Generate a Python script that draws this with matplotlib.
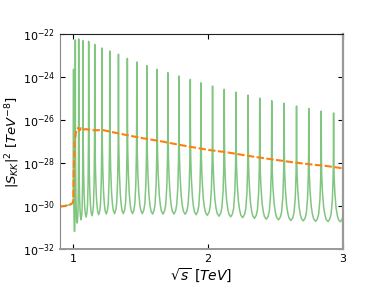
import matplotlib
matplotlib.use("Agg")
import matplotlib.pyplot as plt
import numpy as np

# below threshold, both curves coincide (log10 values)
pre_x = [0.90, 0.93, 0.96, 0.98, 0.99, 0.997, 1.000]
pre_logy = [-30.02, -30.00, -29.96, -29.92, -29.88, -29.82, -29.75]

# green curve: resonance peaks (position in TeV, log10 height)
peak_x = [1.002, 1.015, 1.040, 1.072, 1.114, 1.159, 1.213, 1.271, 1.335, 1.401,
          1.471, 1.546, 1.622, 1.702, 1.784, 1.868, 1.947, 2.033, 2.120, 2.207,
          2.297, 2.383, 2.472, 2.564, 2.656, 2.747, 2.839, 2.931, 3.022]
peak_logy = [-23.64, -22.28, -22.23, -22.31, -22.34, -22.48, -22.65, -22.79, -22.94, -23.13,
             -23.30, -23.47, -23.64, -23.80, -23.95, -24.11, -24.27, -24.42, -24.57, -24.70,
             -24.84, -24.98, -25.10, -25.22, -25.35, -25.46, -25.58, -25.67, -25.78]
# minimum between consecutive peaks
trough_logy = [-31.18, -30.79, -30.64, -30.51, -30.45, -30.40, -30.37, -30.35, -30.35, -30.35,
               -30.35, -30.37, -30.37, -30.37, -30.38, -30.40, -30.43, -30.47, -30.50, -30.54,
               -30.57, -30.61, -30.64, -30.67, -30.69, -30.71, -30.72, -30.73]
# shape of one dip: fraction of the peak-to-trough height
dip_t = [0.015, 0.04, 0.1, 0.2, 0.3, 0.4, 0.55, 0.7, 0.8, 0.9, 0.96, 0.985]
dip_f = [0.6, 0.42, 0.27, 0.13, 0.06, 0.02, 0.0, 0.025, 0.07, 0.2, 0.4, 0.6]

# orange dashed curve (averaged)
avg_x = [1.000, 1.004, 1.010, 1.020, 1.028, 1.037, 1.047, 1.057, 1.070, 1.087, 1.149,
         1.223, 1.297, 1.397, 1.520, 1.645, 1.769, 1.892, 2.016, 2.141, 2.264,
         2.388, 2.512, 2.636, 2.760, 2.884, 3.007]
avg_logy = [-29.75, -28.2, -27.0, -26.55, -26.42, -26.36, -26.48, -26.38, -26.47, -26.42, -26.47,
            -26.47, -26.57, -26.70, -26.85, -26.98, -27.13, -27.27, -27.40, -27.50, -27.63,
            -27.75, -27.86, -27.97, -28.06, -28.14, -28.25]

# assemble green line
gx = list(pre_x)
gy = list(pre_logy)
for i in range(len(peak_x) - 1):
    a, b = peak_x[i], peak_x[i + 1]
    gx.append(a)
    gy.append(peak_logy[i])
    for t, f in zip(dip_t, dip_f):
        side = peak_logy[i] if t < 0.55 else peak_logy[i + 1]
        gx.append(a + t * (b - a))
        gy.append(trough_logy[i] + f * (side - trough_logy[i]))
gx.append(peak_x[-1])
gy.append(peak_logy[-1])

ox = list(pre_x) + avg_x[1:]
oy = list(pre_logy) + avg_logy[1:]

fig = plt.figure(figsize=(3.81, 2.86), dpi=100)
ax = fig.add_axes([0.157, 0.129, 0.743, 0.752])

ax.plot(gx, 10.0 ** np.array(gy), color="#2ca02c", alpha=0.6, lw=1.1)
ax.plot(ox, 10.0 ** np.array(oy), color="#ff7f0e", lw=1.5, linestyle="--", dashes=(3.5, 1.2))

ax.set_yscale("log")
ax.set_xlim(0.9, 3.0)
ax.set_ylim(1e-32, 1e-22)
ax.set_xticks([1, 2, 3])
ax.set_yticks([1e-32, 1e-30, 1e-28, 1e-26, 1e-24, 1e-22])
ax.yaxis.set_minor_locator(matplotlib.ticker.NullLocator())
ax.tick_params(direction="in", top=True, right=True, labelsize=8, length=3.5, width=0.8)

ax.spines["top"].set_color("#222222")
ax.spines["left"].set_color("#888888")
ax.spines["right"].set_color("#999999")
ax.spines["right"].set_linewidth(1.6)
ax.spines["bottom"].set_color("#999999")
ax.spines["bottom"].set_linewidth(1.4)

ax.set_xlabel(r"$\sqrt{s}\ [TeV]$", fontsize=10, labelpad=2)
ax.set_ylabel(r"$|S_{KK}|^2\ [TeV^{-8}]$", fontsize=9.5, labelpad=0.5)

fig.savefig("out.png", dpi=100)
